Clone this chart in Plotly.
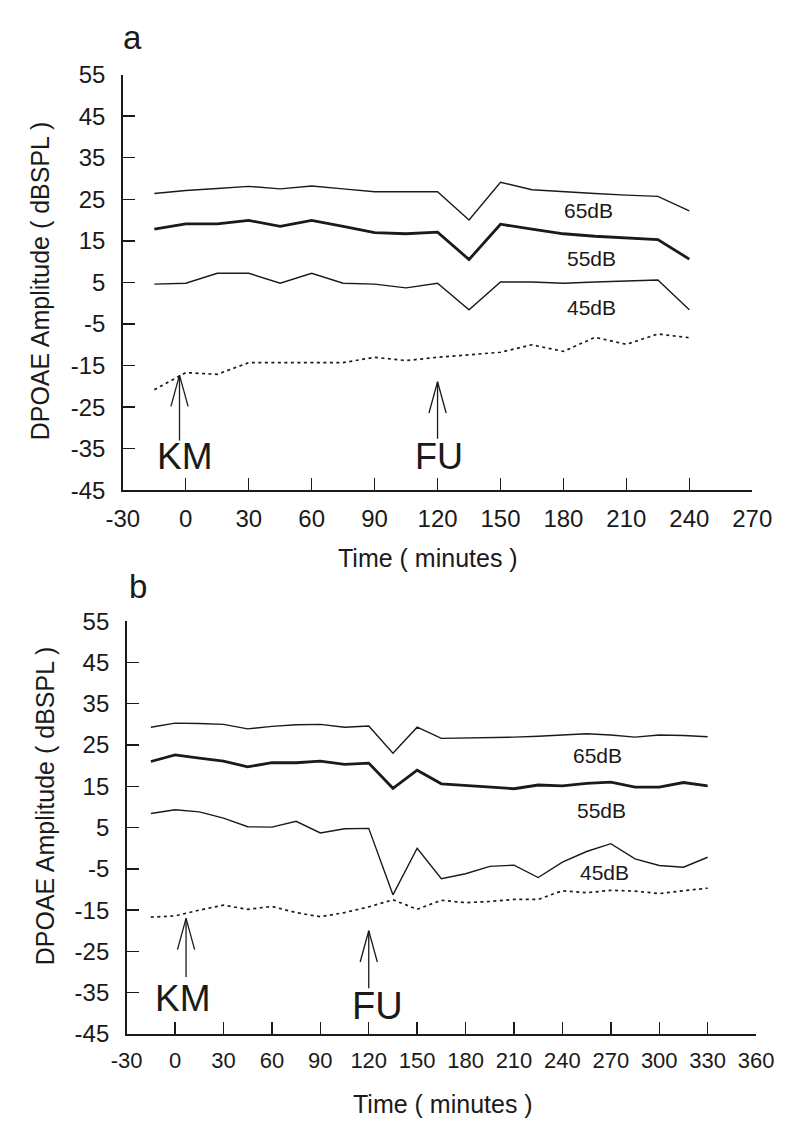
import plotly.graph_objects as go

# ---------------- data ----------------
time_a = [-15, 0, 15, 30, 45, 60, 75, 90, 105, 120, 135, 150, 165, 180, 195, 210, 225, 240]
a_65 = [26.4, 27.1, 27.6, 28.1, 27.5, 28.2, 27.5, 26.8, 26.8, 26.8, 20.0, 29.1, 27.3, 26.8, 26.4, 26.0, 25.7, 22.2]
a_55 = [17.8, 19.1, 19.1, 19.9, 18.5, 19.9, 18.5, 17.0, 16.7, 17.1, 10.5, 19.0, 17.8, 16.7, 16.1, 15.7, 15.3, 10.6]
a_45 = [4.6, 4.8, 7.2, 7.2, 4.8, 7.2, 4.8, 4.6, 3.7, 4.8, -1.6, 5.1, 5.1, 4.8, 5.1, 5.4, 5.6, -1.6]
a_noise = [-20.8, -16.7, -17.1, -14.3, -14.3, -14.3, -14.3, -13.0, -13.8, -13.0, -12.4, -11.8, -10.0, -11.6, -8.2, -9.9, -7.4, -8.3]

time_b = [-15, 0, 15, 30, 45, 60, 75, 90, 105, 120, 135, 150, 165, 180, 195, 210, 225, 240,
          255, 270, 285, 300, 315, 330]
b_65 = [29.3, 30.3, 30.2, 30.0, 28.9, 29.5, 29.9, 30.0, 29.3, 29.6, 23.0, 29.3, 26.6, 26.7, 26.7,
        26.9, 27.1, 27.4, 27.7, 27.4, 26.9, 27.4, 27.3, 27.0]
b_55 = [21.0, 22.6, 21.8, 21.1, 19.7, 20.7, 20.7, 21.1, 20.3, 20.6, 14.5, 18.9, 15.6, 15.2, 14.8,
        14.4, 15.3, 15.1, 15.7, 16.0, 14.8, 14.8, 15.9, 15.1]
b_45 = [8.4, 9.3, 8.8, 7.3, 5.2, 5.1, 6.5, 3.7, 4.7, 4.8, -11.3, 0.0, -7.4, -6.2, -4.4, -4.1,
        -7.1, -3.4, -0.8, 1.1, -2.6, -4.2, -4.6, -2.2]
b_noise = [-16.7, -16.4, -15.0, -13.8, -14.8, -14.1, -15.6, -16.6, -15.6, -14.2, -12.5, -14.8,
           -12.6, -13.2, -12.9, -12.4, -12.4, -10.3, -10.8, -10.2, -10.4, -11.0, -10.3, -9.7]

y_ticks = [55, 45, 35, 25, 15, 5, -5, -15, -25, -35, -45]
x_ticks_a = [-30, 0, 30, 60, 90, 120, 150, 180, 210, 240, 270]
x_ticks_b = [-30, 0, 30, 60, 90, 120, 150, 180, 210, 240, 270, 300, 330, 360]

level_names = ["65dB", "55dB", "45dB"]
label_a_t = [192, 193.5, 193.5]
label_a_v = [22.2, 10.7, -1.0]
label_b_t = [262, 264, 266]
label_b_v = [22.4, 9.2, -5.8]

# arrows: (name, time, tip value, tail value)
arrows_a = [("KM", -3, -17.3, -33.0), ("FU", 120, -18.9, -32.6)]
arrows_b = [("KM", 6.8, -17.0, -31.2), ("FU", 120, -20.0, -33.9)]

# ---------------- layout constants ----------------
W, H = 798, 1128
INK = "#1a1a1a"
FONT = "Liberation Sans, Arial, Helvetica, sans-serif"

def px(x):
    return x / W

def py(y):
    return 1 - y / H

# panel pixel boxes (left, right, top, bottom)
box_a = (111, 771, 62, 488)
box_b = (115, 775, 622, 1045)

fig = go.Figure()

def add_panel(xa, ya, t, s65, s55, s45, noise):
    common = dict(xaxis=xa, yaxis=ya, mode="lines", showlegend=False, hoverinfo="skip")
    fig.add_trace(go.Scatter(x=t, y=s65, line=dict(color=INK, width=1.4), **common))
    fig.add_trace(go.Scatter(x=t, y=s55, line=dict(color=INK, width=2.8), **common))
    fig.add_trace(go.Scatter(x=t, y=s45, line=dict(color=INK, width=1.4), **common))
    fig.add_trace(go.Scatter(x=t, y=noise, line=dict(color=INK, width=1.7, dash="3px,3.5px"), **common))

add_panel("x", "y", time_a, a_65, a_55, a_45, a_noise)
add_panel("x2", "y2", time_b, b_65, b_55, b_45, b_noise)

def xaxis_cfg(box, ticks, rng, fsize):
    return dict(domain=[px(box[0]), px(box[1])], range=rng, tickvals=ticks,
                ticktext=[str(v) for v in ticks], ticks="inside", ticklen=12, tickwidth=1.4,
                tickcolor=INK, showline=True, linecolor=INK, linewidth=1.6, showgrid=False,
                zeroline=False, tickfont=dict(family=FONT, size=fsize, color=INK),
                ticklabelstandoff=6, fixedrange=True)

def yaxis_cfg(box, anchor):
    return dict(domain=[py(box[3]), py(box[2])], range=[-45, 55], tickvals=y_ticks,
                ticktext=[str(v) for v in y_ticks], ticks="inside", ticklen=12, tickwidth=1.4,
                tickcolor=INK, showline=True, linecolor=INK, linewidth=1.6, showgrid=False,
                zeroline=False, tickfont=dict(family=FONT, size=24, color=INK),
                ticklabelstandoff=11, anchor=anchor, fixedrange=True)

xa = xaxis_cfg(box_a, x_ticks_a, [-30, 270], 24)
xa["anchor"] = "y"
xb = xaxis_cfg(box_b, x_ticks_b, [-30, 360], 22)
xb["anchor"] = "y2"

annotations = []
shapes = []

def text_ann(text, x, y, size, xref="paper", yref="paper", angle=0):
    annotations.append(dict(text=text, x=x, y=y, xref=xref, yref=yref, showarrow=False,
                            xanchor="center", yanchor="middle", textangle=angle,
                            font=dict(family=FONT, size=size, color=INK)))

# panel letters
text_ann("a", px(121), py(24), 33)
text_ann("b", px(127), py(587), 33)

# axis titles
text_ann("DPOAE Amplitude ( dBSPL )", px(25), py(273), 25, angle=-90)
text_ann("DPOAE Amplitude ( dBSPL )", px(29), py(811), 25, angle=-90)
text_ann("Time ( minutes )", px(431), py(557), 25)
text_ann("Time ( minutes )", px(447), py(1117), 25)

# level labels
for name, t, v in zip(level_names, label_a_t, label_a_v):
    text_ann(name, t, v, 21, xref="x", yref="y")
for name, t, v in zip(level_names, label_b_t, label_b_v):
    text_ann(name, t, v, 21, xref="x2", yref="y2")

# arrows with open V heads
def add_arrows(arrows, box, xrng, xref, yref, label_offsets, sizes):
    xscale = (box[1] - box[0]) / (xrng[1] - xrng[0])   # px per minute
    yscale = (box[3] - box[2]) / 100.0                   # px per dB
    head_len = 32 / yscale
    head_half = 9 / xscale
    for (name, t, tip, tail), off, fs in zip(arrows, label_offsets, sizes):
        line = dict(color=INK, width=1.3)
        shapes.append(dict(type="line", xref=xref, yref=yref, x0=t, x1=t, y0=tail, y1=tip, line=line))
        shapes.append(dict(type="line", xref=xref, yref=yref, x0=t, y0=tip,
                           x1=t - head_half, y1=tip - head_len, line=line))
        shapes.append(dict(type="line", xref=xref, yref=yref, x0=t, y0=tip,
                           x1=t + head_half, y1=tip - head_len, line=line))
        text_ann(name, t + off[0] / xscale, tail - off[1] / yscale, fs, xref=xref, yref=yref)

# label offsets in pixels (dx, dy below tail)
add_arrows(arrows_a, box_a, [-30, 270], "x", "y", [(6, 16), (1, 18)], [37, 36])
add_arrows(arrows_b, box_b, [-30, 360], "x2", "y2", [(-3, 22), (9, 18)], [37, 38])

fig.update_layout(
    width=W, height=H, autosize=False,
    margin=dict(l=0, r=0, t=0, b=0),
    paper_bgcolor="white", plot_bgcolor="white",
    xaxis=xa, yaxis=yaxis_cfg(box_a, "x"),
    xaxis2=xb, yaxis2=yaxis_cfg(box_b, "x2"),
    annotations=annotations, shapes=shapes,
)

fig.write_html(
    "out.html",
    config={"displayModeBar": False, "staticPlot": True},
    post_script="document.body.style.margin='0';document.body.style.overflow='hidden';",
)
